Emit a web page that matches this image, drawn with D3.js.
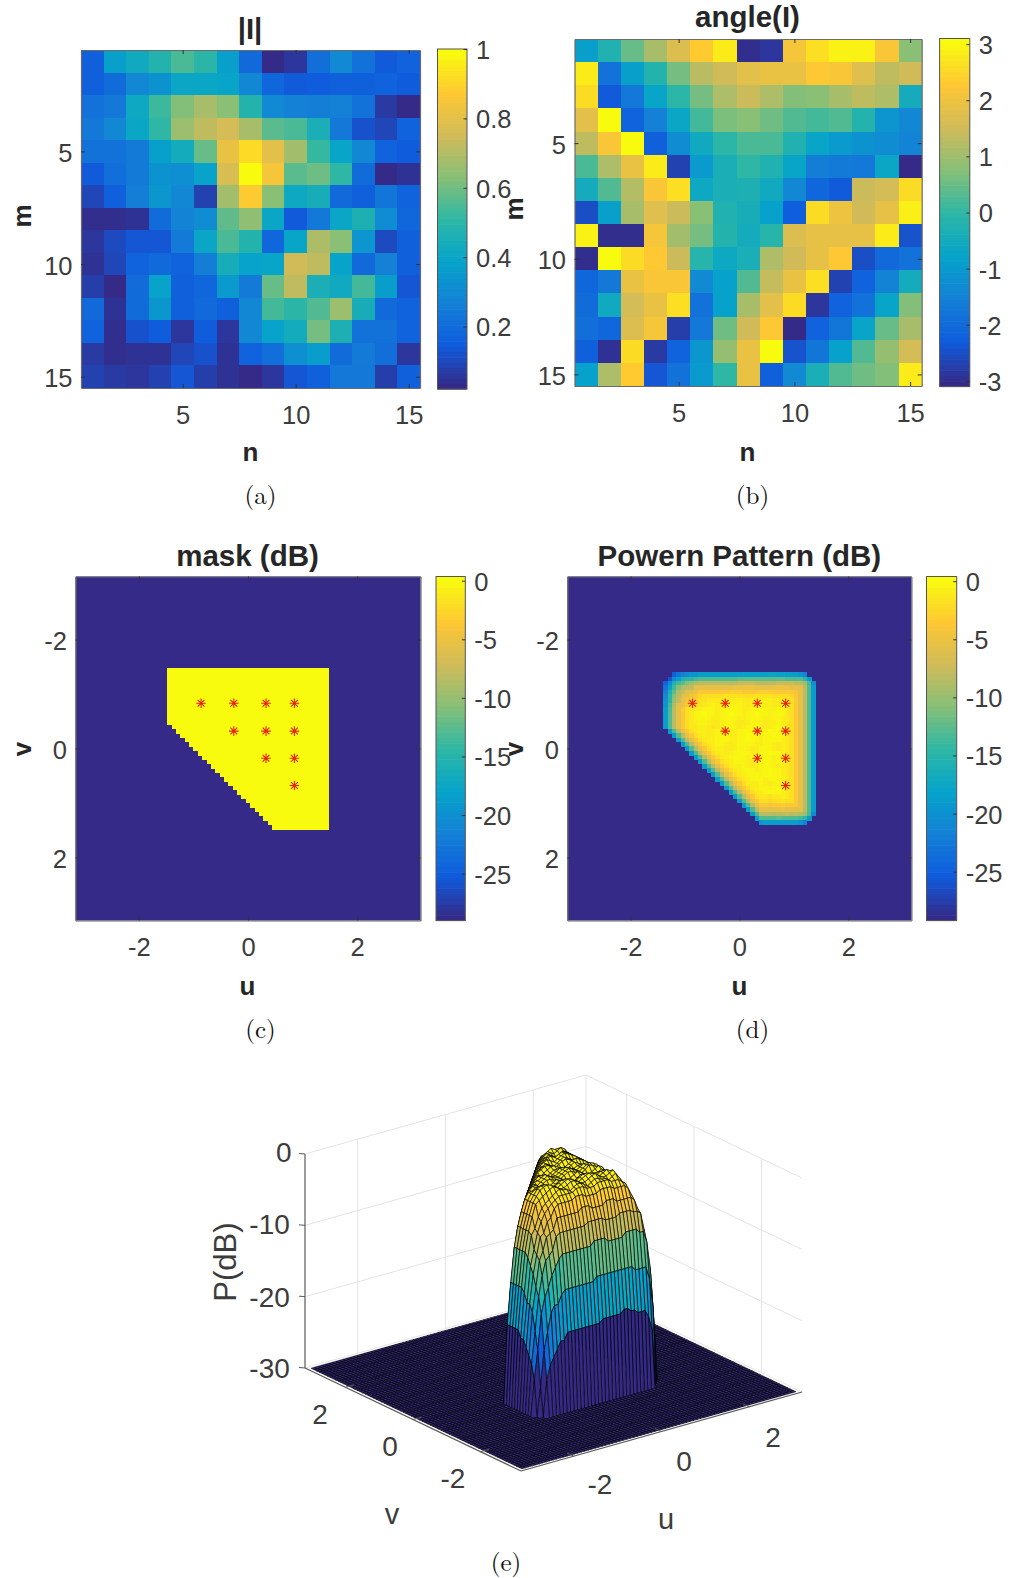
<!DOCTYPE html>
<html><head><meta charset="utf-8">
<script src="https://cdn.jsdelivr.net/npm/d3@7/dist/d3.min.js"></script>
<style>html,body{margin:0;padding:0;background:#fff}svg{display:block}text{font-family:"Liberation Sans",Arial,sans-serif}</style>
</head><body><svg id="c" width="1014" height="1578"></svg>
<script>
const magnitude = [
[.14,.36,.41,.47,.54,.49,.36,.17,.0,.03,.19,.28,.2,.12,.15],
[.14,.18,.27,.31,.39,.39,.38,.27,.16,.12,.13,.14,.14,.15,.13],
[.2,.22,.4,.52,.62,.68,.63,.47,.28,.25,.24,.25,.2,.04,.0],
[.22,.27,.39,.5,.66,.72,.76,.68,.56,.54,.44,.22,.1,.07,.15],
[.2,.2,.23,.36,.42,.58,.82,.92,.8,.67,.51,.38,.27,.15,.13],
[.12,.19,.23,.31,.3,.37,.77,1.0,.85,.56,.59,.5,.18,.0,.02],
[.07,.14,.24,.33,.27,.06,.67,.88,.63,.4,.43,.17,.14,.21,.15],
[.01,.01,.02,.18,.26,.29,.57,.64,.39,.12,.22,.39,.45,.29,.16],
[.03,.08,.11,.11,.23,.39,.54,.47,.16,.38,.69,.63,.32,.08,.14],
[.02,.07,.15,.17,.15,.24,.43,.37,.38,.75,.72,.37,.17,.25,.14],
[.05,.0,.18,.37,.14,.16,.34,.23,.58,.72,.44,.41,.53,.35,.11],
[.17,.02,.18,.33,.14,.17,.14,.27,.53,.49,.55,.66,.43,.17,.15],
[.15,.01,.1,.13,.03,.13,.03,.27,.37,.42,.6,.45,.2,.2,.15],
[.04,.01,.02,.02,.07,.1,.02,.15,.19,.3,.35,.18,.23,.19,.03],
[.06,.04,.03,.06,.11,.05,.02,.0,.03,.11,.14,.22,.22,.05,.14]];
const angle = [
[-.88,-.25,.5,1.13,1.76,2.39,2.89,-3.08,-2.95,2.2,2.7,3.0,3.0,2.26,.82],
[2.89,-1.88,-.88,-.19,.63,1.32,1.57,1.88,2.01,2.01,2.33,2.26,1.82,1.38,1.57],
[2.64,-2.39,-1.76,-.75,-.06,.63,1.19,1.51,1.19,.75,.82,1.13,1.38,1.19,-.5],
[1.88,3.14,-2.2,-1.57,-.69,.19,.69,.82,.57,.31,.19,.31,-.19,-1.13,-1.44],
[1.38,2.26,3.14,-2.26,-1.32,-.56,-.06,.25,.25,-.25,-.75,-1.0,-1.19,-1.32,-1.51],
[.25,1.19,2.01,2.89,-2.76,-1.0,-.38,0,-.25,-.75,-1.63,-1.7,-1.76,-.69,-3.14],
[-.5,.31,1.26,2.26,2.7,-.63,-.38,-.31,-.56,-1.44,-2.13,-2.39,1.51,1.63,2.64],
[-2.57,-.88,1.13,1.82,1.51,.82,-.25,-.44,-.82,-2.32,2.64,2.07,1.57,1.95,2.95],
[3.0,-3.08,-3.08,2.2,1.07,.63,-.19,-.5,-.13,1.76,1.95,1.95,1.95,2.89,-2.5],
[-3.08,3.14,2.64,2.33,1.51,-.13,-.63,-.38,1.19,1.57,1.95,2.33,-2.57,-2.07,-1.88],
[-2.13,-1.76,2.01,2.26,2.26,-1.38,-.82,.31,1.44,2.01,2.7,-2.76,-2.2,-1.51,-.5],
[-2.01,-.56,1.63,2.01,2.7,-1.88,-.82,1.13,1.88,2.64,-2.95,-2.2,-1.88,-.75,.75],
[-1.95,-2.13,1.76,2.2,-2.83,-1.76,.57,1.57,2.33,-3.14,-2.2,-1.82,-.75,.5,1.13],
[-2.26,-3.02,2.64,-2.89,-2.2,-1.07,.94,2.01,3.14,-2.5,-1.82,-.82,.31,.94,1.63],
[-.82,1.19,2.39,-2.45,-1.88,-1.0,0,2.01,-2.26,-1.38,-.38,.31,.57,.75,2.89]];
const elementTicks = [5,10,15];
const parulaStops = ["#352a87","#0f5cdd","#1481d6","#06a4ca","#2eb7a4","#87bf77","#d1bb59","#fec832","#f9fb0e"];
const uvGridCount = 79, uvFirst = -3.12, uvStep = 0.08;
const maskFirstRow = 21, maskLastCol = 57;
const maskRowStart = [21,21,21,21,21,21,21,21,21,21,21,21,21,22,23,24,25,26,27,28,29,30,31,32,33,34,35,36,37,38,39,40,41,42,43,44,45];
const starU = [-.86,-.26,.33,.85];
const starV = [-.83,-.32,.18,.68];
const starFirstCol = [0,1,2,3];
const patternFirstIndex = 22;
const patternLevels = [-30,-28,-26,-25,-24,-23,-22,-21,-20,-19,-18.5,-18,-16,-15,-13.8,-13.2,-12.6,-11,-10,-9,-8.4,-7.8,-6,-5.6,-5.2,-4.2,-3.7,-3.2,-2.6,-2.1,-1.7,-1.3,-.9,-.6,-.3,-.1];
const patternRows = [
"00356788"+"9999999999aaaaaabbaa999"+"8600",
"027acdde"+"fffffffffgggggggggggffff"+"d90",
"37ceghij"+"kkkkkkkkkllllkkkkkllllkk"+"ie7",
"5aehjklm"+"nnnnnnnnooooonnnnoooonn"+"mkf9",
"6cgjlmno"+"qqqqqqqrrrqqqqrrrqqqqq"+"pnkf9",
"7dhkmnpqs"+"tttttuuuttttuuuutttt"+"sqnkf9",
"8dilnprstu"+"vvvvvwwwvvvwwwwvvv"+"utqnkf9",
"8ejmoqst"+"uvwxwwvwxxwvwxxwwvwx"+"vtqnkf9",
"9fknqtuv"+"wxyxwwxyyxwwxyzxwwxy"+"vtqnkf9",
"9fknqtv"+"xyzyxwxyzyxwxyzyxwxyx"+"vtqnkf9",
"9fknqtv"+"xyyxwwxyyxwwxyyxwwxxw"+"vtqnkf9",
"9fknqtv"+"wxxwvvwxxwvvwxxwvwwxw"+"vtqnkf9",
"9fknqtv"+"vwwvuvwxxwvwxyxwvwxyx"+"vtqnkf9",
"0"+"9fknqtv"+"wwvwxxwvwxyyxwwxzyxw"+"vtqnkf9",
"00"+"9fknqtv"+"wvwxyxwwxyzyxwxyzyx"+"vtqnkf9",
"000"+"9fknqtv"+"wwxyxwwxyzyxwxyyxw"+"vtqnkf9",
"0000"+"9fknqtv"+"wxxwvwxyyxwwxxwvw"+"vtqnkf9",
"00000"+"9fknqtv"+"wwvvwxxwvwxyxwvw"+"vtqnkf9",
"000000"+"9fknqtv"+"wvwxyyxwwxyzyxw"+"vtqnkf9",
"0000000"+"9fknqtv"+"wxyyxwxyzyxwxw"+"vtqnkf9",
"00000000"+"9fknqtv"+"wxyxwvwxyxwxw"+"vtqnkf9",
"000000000"+"9fknqtv"+"wwxwvwxyxwvw"+"vtqnkf9",
"0000000000"+"9fknqtv"+"wxyxwxyzyxw"+"vtqnkf9",
"00000000000"+"9fknqtv"+"wxyyxyzyxw"+"vtqnkf9",
"000000000000"+"9fknqtv"+"wxyxwxyxw"+"vtqnkf9",
"0000000000000"+"9fknqtv"+"wwxwvwxw"+"vtqnkf9",
"00000000000000"+"9fknqtv"+"wxxwxyx"+"vtqnkf9",
"000000000000000"+"9fknqtv"+"wxyxxw"+"vtqnkf9",
"0000000000000000"+"9fknqt"+"vvuvvwv"+"tqnkf9",
"00000000000000000"+"9fknq"+"ttsttutt"+"qnkf9",
"000000000000000000"+"9fkn"+"qqpqqrqqq"+"nkf9",
"0000000000000000000"+"9fk"+"nnmnnonnmm"+"kf9",
"00000000000000000000"+"9f"+"kkkjkklkkj"+"ie7",
"000000000000000000000"+"9"+"ffffgffffe"+"d90",
"0000000000000000000000"+"899999999"+"8600"];
const dbTicks = [0,-5,-10,-15,-20,-25];
const uvTicks = [-2,0,2];
const zTicks = [0,-10,-20,-30];

const svg = d3.select("#c");
const tickColor = "#3c3c3c", frameColor = "#6a6a6a";
const parula = d3.scaleLinear().domain(parulaStops.map((_,i)=>i/(parulaStops.length-1))).range(parulaStops).interpolate(d3.interpolateRgb).clamp(true);
const colorOf = (lo,hi)=>{const t=d3.scaleLinear().domain([lo,hi]).range([0,1]).clamp(true);return v=>parula(t(v));};
const plain = d=>String(d);

function patternAt(i,j){
  const r=patternRows[j-patternFirstIndex];
  if(!r) return patternLevels[0];
  const ch=r[i-patternFirstIndex];
  if(ch===undefined||i<patternFirstIndex) return patternLevels[0];
  return patternLevels[parseInt(ch,36)];
}

function frameAxes(g,x,y,xt,yt){
  const size=4;
  const sty=a=>{a.selectAll("path.domain").attr("stroke",frameColor).attr("stroke-width",1.2);
    a.selectAll("line").attr("stroke","#333");
    a.selectAll("text").attr("font-size",25.5).attr("fill",tickColor).attr("font-family",'"Liberation Sans"');};
  const [x0,x1]=x.range(), [y0,y1]=y.range();
  g.append("g").attr("transform",`translate(0,${y1})`).call(d3.axisBottom(x).tickValues(xt).tickFormat(plain).tickSizeInner(-size).tickSizeOuter(0).tickPadding(17.5)).call(sty);
  g.append("g").attr("transform",`translate(0,${y0})`).call(d3.axisTop(x).tickValues(xt).tickSizeInner(-size).tickSizeOuter(0).tickFormat("")).call(sty);
  g.append("g").attr("transform",`translate(${x0},0)`).call(d3.axisLeft(y).tickValues(yt).tickFormat(plain).tickSizeInner(-size).tickSizeOuter(0).tickPadding(8.5)).call(sty)
    .selectAll("text").attr("dy","0.4em");
  g.append("g").attr("transform",`translate(${x1},0)`).call(d3.axisRight(y).tickValues(yt).tickSizeInner(-size).tickSizeOuter(0).tickFormat("")).call(sty);
}
function colorbar(x0,x1,y0,y1,lo,hi,ticks){
  const g=svg.append("g");
  const y=d3.scaleLinear().domain([lo,hi]).range([y1,y0]);
  const n=64, h=(y1-y0)/n;
  g.selectAll("rect").data(d3.range(n)).join("rect")
    .attr("x",x0).attr("width",x1-x0)
    .attr("y",k=>y1-(k+1)*h).attr("height",h+.6)
    .attr("fill",k=>parula(k/(n-1)));
  g.append("rect").attr("x",x0).attr("y",y0).attr("width",x1-x0).attr("height",y1-y0).attr("fill","none").attr("stroke","#555").attr("stroke-width",1);
  const a=g.append("g").attr("transform",`translate(${x1},0)`).call(d3.axisRight(y).tickValues(ticks).tickSizeInner(-3.5).tickSizeOuter(0).tickPadding(9).tickFormat(plain));
  a.select("path.domain").attr("stroke","none");
  a.selectAll("line").attr("stroke","#333");
  a.selectAll("text").attr("font-size",25.5).attr("fill",tickColor).attr("font-family",'"Liberation Sans"').attr("dy","0.37em");
}
function label(x,y,t,size,opts={}){
  const e=svg.append("text").attr("text-anchor","middle").attr("dominant-baseline","central")
   .attr("font-size",size).attr("fill",opts.fill||"#262626").attr("font-weight",opts.bold?"bold":"normal")
   .attr("transform",`translate(${x},${y})`+(opts.rot?` rotate(${opts.rot})`:"")).text(t);
  if(opts.family) e.style("font-family",opts.family);
  return e;
}
function matrixPanel(m,box,lo,hi){
  const x=d3.scaleLinear().domain([.5,15.5]).range([box.x0,box.x1]);
  const y=d3.scaleLinear().domain([.5,15.5]).range([box.y0,box.y1]);
  const col=colorOf(lo,hi);
  const g=svg.append("g");
  const cells=m.flatMap((row,r)=>row.map((v,c)=>({v,r,c})));
  g.selectAll("rect").data(cells).join("rect")
   .attr("x",d=>x(d.c+.5)).attr("y",d=>y(d.r+.5))
   .attr("width",d=>x(d.c+1.5)-x(d.c+.5)+.4).attr("height",d=>y(d.r+1.5)-y(d.r+.5)+.4)
   .attr("shape-rendering","crispEdges")
   .attr("fill",d=>col(d.v));
  frameAxes(g,x,y,elementTicks,elementTicks);
}
function uvPanel(cells,box,lo,hi){
  const lim=uvFirst-uvStep/2;
  const x=d3.scaleLinear().domain([lim,-lim]).range([box.x0,box.x1]);
  const y=d3.scaleLinear().domain([lim,-lim]).range([box.y0,box.y1]);
  const col=colorOf(lo,hi);
  const g=svg.append("g");
  g.append("rect").attr("x",box.x0).attr("y",box.y0).attr("width",box.x1-box.x0).attr("height",box.y1-box.y0).attr("fill",parula(0));
  const at=i=>uvFirst+uvStep*i;
  g.selectAll("rect.c").data(cells).join("rect").attr("class","c")
    .attr("x",d=>x(at(d.i-.5))).attr("y",d=>y(at(d.j-.5)))
    .attr("width",x(at(1))-x(at(0))+.5).attr("height",y(at(1))-y(at(0))+.5)
    .attr("shape-rendering","crispEdges")
    .attr("fill",d=>col(d.v));
  const stars=starV.flatMap((v,r)=>starU.filter((_,k)=>k>=starFirstCol[r]).map(u=>({u,v})));
  const R=4.8, arms=d3.range(4).map(k=>k*Math.PI/4);
  g.selectAll("path.s").data(stars).join("path").attr("class","s")
    .attr("d",d=>arms.map(a=>{const dx=R*Math.cos(a),dy=R*Math.sin(a);
        return `M${x(d.u)-dx},${y(d.v)-dy}L${x(d.u)+dx},${y(d.v)+dy}`;}).join(""))
    .attr("stroke","#e8201a").attr("stroke-width",1.1).attr("fill","none");
  frameAxes(g,x,y,uvTicks,uvTicks);
}

// (a)
matrixPanel(magnitude,{x0:81,x1:420,y0:50,y1:388},0,1);
colorbar(437.5,467,49,389,.02,1,[.2,.4,.6,.8,1]);
label(250,28,"|I|",29.5,{bold:true});
label(250.5,452,"n",26,{bold:true});
label(22,216,"m",26,{bold:true,rot:-90});
// (b)
matrixPanel(angle,{x0:574.5,x1:921.7,y0:39,y1:386},-3.14,3.14);
colorbar(939.6,969.8,38.5,386.5,-3.1,3.1,[-3,-2,-1,0,1,2,3]);
label(747.5,16,"angle(I)",29.5,{bold:true});
label(747.5,452,"n",26,{bold:true});
label(514,209,"m",26,{bold:true,rot:-90});
// (c)
const maskCells=[];
maskRowStart.forEach((s,k)=>d3.range(s,maskLastCol+1).forEach(i=>maskCells.push({i,j:maskFirstRow+k,v:0})));
uvPanel(maskCells,{x0:75.5,x1:420.5,y0:576.5,y1:920.5},-29,0);
colorbar(436,465.3,576.5,920.5,-29,.36,dbTicks);
label(247.5,555,"mask (dB)",29.5,{bold:true});
label(247.5,986,"u",26,{bold:true});
label(22,749,"v",26,{bold:true,rot:-90});
// (d)
const patternCells=[];
patternRows.forEach((row,r)=>row.split("").forEach((ch,c)=>{ if(ch!=="0") patternCells.push({i:patternFirstIndex+c,j:patternFirstIndex+r,v:patternLevels[parseInt(ch,36)]}); }));
uvPanel(patternCells,{x0:567.4,x1:911.4,y0:576.5,y1:920.5},-29.2,0);
colorbar(926.5,956.7,576.5,920.5,-29.2,.4,dbTicks);
label(739.4,555,"Powern Pattern (dB)",29.5,{bold:true});
label(739.4,986,"u",26,{bold:true});
label(514,749,"v",26,{bold:true,rot:-90});

// (e) surface
const L={x:305,y:1368}, F={x:521,y:1471}, Rg={x:802,y:1392};
const zH=214;
const axisLim=3.2;
const fu=d3.scaleLinear().domain([-axisLim,axisLim]).range([0,1]);
const fv=d3.scaleLinear().domain([-axisLim,axisLim]).range([0,1]);
const fz=d3.scaleLinear().domain([-30,0]).range([0,zH]);
const proj=(u,v,z)=>[F.x+(Rg.x-F.x)*fu(u)+(L.x-F.x)*fv(v), F.y+(Rg.y-F.y)*fu(u)+(L.y-F.y)*fv(v)-fz(z)];
const P3=(u,v,z)=>proj(u,v,z).join(",");
const sG=svg.append("g");
const gridStroke="#e4e4e4";
function seg(a,b,stroke,w){sG.append("line").attr("x1",a[0]).attr("y1",a[1]).attr("x2",b[0]).attr("y2",b[1]).attr("stroke",stroke).attr("stroke-width",w||1);}
zTicks.forEach(z=>{
  seg(proj(-axisLim,axisLim,z),proj(axisLim,axisLim,z),gridStroke);
  seg(proj(axisLim,axisLim,z),proj(axisLim,-axisLim,z),gridStroke);
});
uvTicks.forEach(t=>{
  seg(proj(t,axisLim,-30),proj(t,axisLim,0),gridStroke);
  seg(proj(axisLim,t,-30),proj(axisLim,t,0),gridStroke);
});
seg(proj(axisLim,axisLim,-30),proj(axisLim,axisLim,0),gridStroke);
const quads=[];
const atUV=i=>uvFirst+uvStep*i;
for(let i=uvGridCount-2;i>=0;i--) for(let j=uvGridCount-2;j>=0;j--) quads.push({i,j});
const zCol=colorOf(-30,0);
sG.selectAll("path.q").data(quads).join("path").attr("class","q")
  .attr("d",d=>{const a=atUV(d.i),b=atUV(d.i+1),c=atUV(d.j),e=atUV(d.j+1);
    return `M${P3(a,c,patternAt(d.i,d.j))}L${P3(b,c,patternAt(d.i+1,d.j))}L${P3(b,e,patternAt(d.i+1,d.j+1))}L${P3(a,e,patternAt(d.i,d.j+1))}Z`;})
  .attr("fill",d=>zCol(patternAt(d.i,d.j)))
  .attr("stroke","#000").attr("stroke-width",.65);
const axC="#5a5a5a";
seg(proj(-axisLim,axisLim,-30),proj(-axisLim,axisLim,0),axC,1.2);
seg(proj(-axisLim,axisLim,-30),proj(-axisLim,-axisLim,-30),axC,1.2);
seg(proj(-axisLim,-axisLim,-30),proj(axisLim,-axisLim,-30),axC,1.2);
zTicks.forEach(z=>{const p=proj(-axisLim,axisLim,z);seg([p[0]-6,p[1]-.5],p,axC,1);});
uvTicks.forEach(t=>{
  const a=proj(t,-axisLim,-30), b=proj(t,-axisLim+.2,-30); seg(a,b,axC,1);
  const c=proj(-axisLim,t,-30), e=proj(-axisLim+.2,t,-30); seg(c,e,axC,1);
});
const lab3={fill:tickColor};
const zLabelPos=[[283.7,1152],[269.6,1224],[269.6,1297],[269.6,1368]];
zTicks.forEach((z,k)=>label(zLabelPos[k][0],zLabelPos[k][1],String(z),28,lab3));
const uLabelPos=[[600,1484],[684,1461],[773,1437]];
const vLabelPos=[[453,1478],[390,1446],[320,1414]];
uvTicks.forEach((t,k)=>{label(uLabelPos[k][0],uLabelPos[k][1],String(t),28,lab3);label(vLabelPos[k][0],vLabelPos[k][1],String(t),28,lab3);});
label(225,1262,"P(dB)",31,{fill:tickColor,rot:-90});
label(392,1514,"v",29,lab3);
label(666,1519,"u",29,lab3);

const capFont='"Latin Modern Roman","Liberation Serif",serif';
[[260.5,493,"(a)"],[752.5,493,"(b)"],[260.5,1027,"(c)"],[752.5,1027,"(d)"],[506,1560,"(e)"]].forEach(c=>
  label(c[0],c[1],c[2],25,{family:capFont,fill:"#111"}));
</script></body></html>
